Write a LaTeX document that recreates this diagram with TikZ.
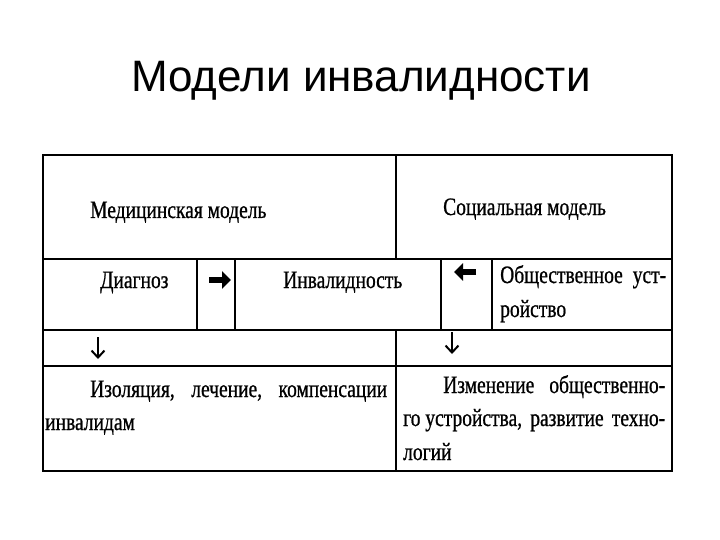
\documentclass[tikz,border=0pt]{standalone}
\usepackage{fontspec}
\setmainfont{Liberation Serif}
\newfontfamily\titlefont{Liberation Sans}
\newfontfamily\cellfont[FakeStretch=0.78,FakeBold=0.8]{Liberation Serif}
\usetikzlibrary{arrows.meta}
\begin{document}
\begin{tikzpicture}[x=1pt,y=-1pt,
  grid/.style={line width=1.3pt,black},
  txt/.style={anchor=base west,inner sep=0pt,font=\cellfont\fontsize{25}{30}\selectfont},
  fatarrow/.style={line width=6pt,-{Triangle[length=9pt,width=17pt]}},
  downarrow/.style={line width=2pt,-{Straight Barb[length=7pt,width=13pt,line width=2pt]}}]
\useasboundingbox (0,0) rectangle (720,540);
\node[anchor=base,inner sep=0pt,font=\titlefont\fontsize{44}{52}\selectfont] (title) at (361,92) {Модели инвалидности};
% grid
\draw[grid] (43,155) rectangle (672,471);
\draw[grid] (43,259) -- (672,259);
\draw[grid] (43,330) -- (672,330);
\draw[grid] (43,366) -- (672,366);
\draw[grid] (396,155) -- (396,259);
\draw[grid] (396,330) -- (396,471);
\draw[grid] (197,259) -- (197,330);
\draw[grid] (235,259) -- (235,330);
\draw[grid] (441,259) -- (441,330);
\draw[grid] (492,259) -- (492,330);
% texts
\node[txt] (med) at (90,218) {Медицинская модель};
\node[txt] (soc) at (443,215) {Социальная модель};
\node[txt] (diag) at (100,288) {Диагноз};
\node[txt] (inv) at (283,288) {Инвалидность};
\node[txt] (obs1) at (500,283) {\hbox to 166pt{Общественное\hfill уст-}};
\node[txt] (obs2) at (500,317) {ройство};
\node[txt] (iz1) at (90,397) {\hbox to 297pt{Изоляция,\hfill лечение,\hfill компенсации}};
\node[txt] (iz2) at (45,430) {инвалидам};
\node[txt] (ch1) at (443,393) {\hbox to 222pt{Изменение\hfill общественно-}};
\node[txt] (ch2) at (403,426) {\hbox to 262pt{го устройства,\hfill развитие\hfill техно-}};
\node[txt] (ch3) at (403,460) {логий};
% arrows
\coordinate (ra1) at (209,280);
\coordinate (ra2) at (231,280);
\coordinate (la1) at (476,272);
\coordinate (la2) at (454,272);
\draw[fatarrow] (ra1) -- (ra2);
\draw[fatarrow] (la1) -- (la2);
\coordinate (da1) at (98,337);
\coordinate (da2) at (98,359);
\coordinate (db1) at (452,332);
\coordinate (db2) at (452,354);
\draw[downarrow] (da1) -- (da2);
\draw[downarrow] (db1) -- (db2);
\end{tikzpicture}
\end{document}
